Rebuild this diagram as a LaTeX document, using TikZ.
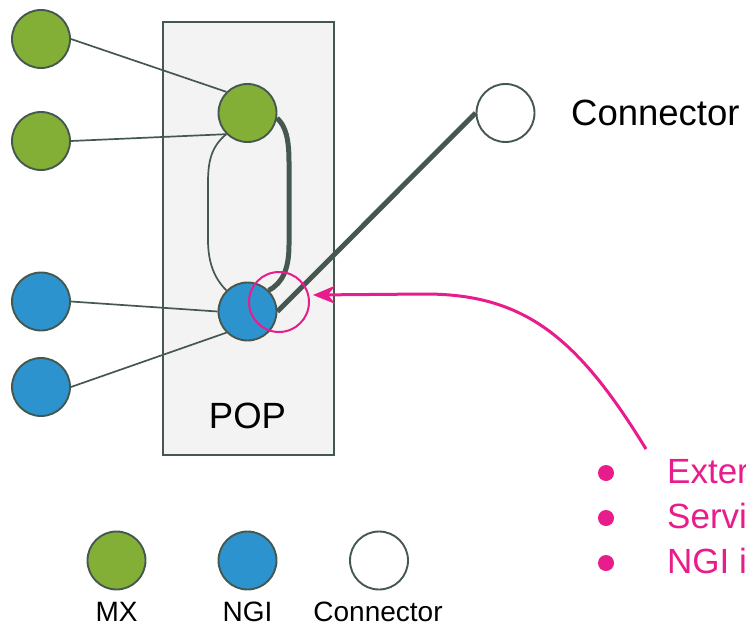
\documentclass[tikz,border=0pt]{standalone}
\usepackage{fontspec}
\setmainfont{Liberation Sans}
\usetikzlibrary{arrows.meta}
\definecolor{edgec}{RGB}{69,88,79}
\definecolor{mxgreen}{RGB}{132,175,54}
\definecolor{ngiblue}{RGB}{44,147,207}
\definecolor{popfill}{RGB}{243,243,243}
\definecolor{hotpink}{RGB}{232,28,138}
\begin{document}
\begin{tikzpicture}[x=1pt,y=-1pt,
  dot/.style={circle,draw=edgec,line width=1.9pt,minimum size=58pt,inner sep=0pt},
  mx/.style={dot,fill=mxgreen},
  ngi/.style={dot,fill=ngiblue},
  conn/.style={dot,fill=white},
  link/.style={draw=edgec,line width=1.7pt},
  fatlink/.style={draw=edgec,line width=5pt},
  bigtext/.style={inner sep=0pt,font=\fontsize{36.5}{40}\selectfont},
  smalltext/.style={inner sep=0pt,anchor=base,text depth=0pt,font=\fontsize{28}{32}\selectfont},
  bullet/.style={circle,fill=hotpink,inner sep=0pt,minimum size=16pt},
  pinktext/.style={inner sep=0pt,anchor=base west,text=hotpink,font=\fontsize{35}{40}\selectfont}]
\useasboundingbox (0,0) rectangle (746,623);
\clip (0,0) rectangle (746,623);
% POP box
\node[draw=edgec,fill=popfill,line width=1.7pt,minimum width=171pt,minimum height=433pt,inner sep=0pt,anchor=north west] (pop) at (162,21) {};
\node[bigtext,anchor=base] (poplabel) at (247.5,428) {POP};
% nodes
\node[mx] (m1) at (41,39) {};
\node[mx] (m2) at (41,141) {};
\node[ngi] (n1) at (41,301.5) {};
\node[ngi] (n2) at (41,387) {};
\node[mx] (g) at (247.5,113) {};
\node[ngi] (b) at (247.5,311.5) {};
\node[conn] (c) at (505.5,113) {};
\node[bigtext,anchor=base west] (clabel) at (571,125) {Connector};
% links
\draw[link] (m1.east) -- (g.north west);
\draw[link] (m2.east) -- (g.south west);
\draw[link] (n1.east) -- (b.west);
\draw[link] (n2.east) -- (b.south west);
\draw[link] (g.south west) .. controls (212,146) and (208,160) .. (208,182) -- (208,240) .. controls (208,262) and (214,278) .. (b.north west);
\draw[fatlink] (g.-10) .. controls (286,126) and (289,140) .. (289,162) -- (289,245) .. controls (289,268) and (283,283) .. (b.north east);
\draw[fatlink] (b.east) -- (c.west);
% highlight
\node[circle,draw=hotpink,line width=2pt,minimum size=60pt,inner sep=0pt] (focus) at (279,302) {};
\coordinate (pstart) at (646,449);
\coordinate (ptip) at (313,295);
\draw[hotpink,line width=3pt,-{Stealth[length=22pt,width=18pt,inset=7pt]}] (pstart) .. controls (578,338) and (525,294) .. (425,294) -- (ptip);
% pink list
\node[bullet] (b1) at (606,473) {};
\node[bullet] (b2) at (606,518) {};
\node[bullet] (b3) at (606,563) {};
\node[pinktext] (t1) at (667,483) {Exter};
\node[pinktext] (t2) at (667,528) {Servi};
\node[pinktext] (t3) at (667,573) {NGI i};
% legend
\node[mx] (lmx) at (116.5,560.5) {};
\node[ngi] (lngi) at (247.5,560.5) {};
\node[conn] (lconn) at (379,560.5) {};
\node[smalltext] (lmxt) at (116.5,621) {MX};
\node[smalltext] (lngit) at (247.5,621) {NGI};
\node[smalltext] (lconnt) at (378,621) {Connector};
\end{tikzpicture}
\end{document}
